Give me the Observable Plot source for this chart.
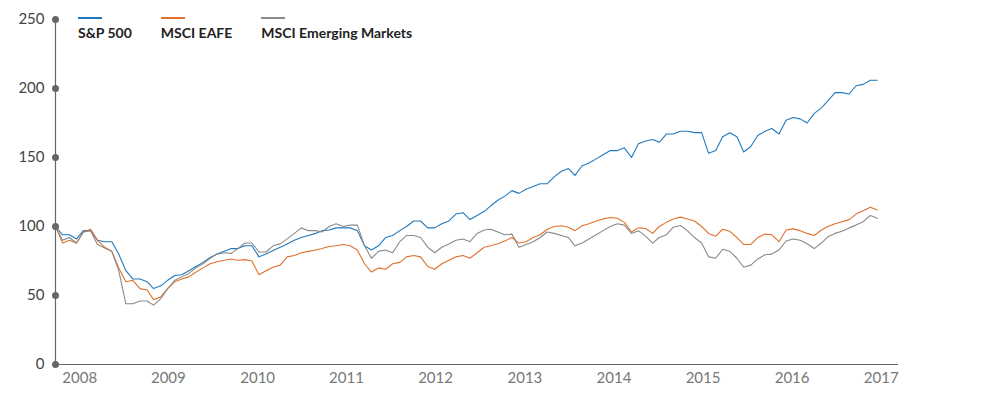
<!DOCTYPE html>
<html><head><meta charset="utf-8">
<script src="https://cdn.jsdelivr.net/npm/d3@7"></script>
<script src="https://cdn.jsdelivr.net/npm/@observablehq/plot@0.6"></script>
<style>
body{margin:0;background:#fff;font-family:Lato,sans-serif;}
#wrap{position:relative;width:985px;height:406px;}
#legend{position:absolute;left:78px;top:17px;display:flex;gap:29px;font-size:14px;font-weight:700;color:#222;}
.item{display:flex;flex-direction:column;line-height:1;}
.sw{width:24px;height:2px;margin-bottom:7px;}
</style></head><body><div id="wrap"><div id="legend"></div></div>
<script>
const seriesNames = ["S&P 500", "MSCI EAFE", "MSCI Emerging Markets"];
const seriesColors = ["#2179bd", "#e0702d", "#8a8a8a"];
const startMonth = "2008-01-01";
const yTicks = [0, 50, 100, 150, 200, 250];
const xTickLabels = ["2008","2009","2010","2011","2012","2013","2014","2015","2016","2017"];
const xTickDates = ["2008-04-15","2009-05-04","2010-05-26","2011-06-15","2012-07-05","2013-07-27","2014-08-17","2015-09-07","2016-09-27","2017-10-18"];

const sp500 = [100,94,94,91,97,97,90,89,89,80,68,62,62,60,55,57,61,64.5,65,68,71,74,77.5,80,82,84,84,86,86,78,80,82.6,85,87.4,90,92,93.5,95,97,97.5,99,99,99,97,86,83,86,92,93.5,97,100,104,104,99,99,102,104,109,110,105,108,111,115,119,122,126,124,127,129,131,131,136,140,142,137,144,146,149,152,155,155,157,150,160,162,163,161,167,167,169,169,168,168,153,155,165,168,165,154,158,166,169,171,167,177,179,178,175,182,186,191,197,197,196,202,203,206,206];
const eafe = [100,88,90,88,96,98,90,85,82,70,60,61,55,54,47,49,55,60,62,63.5,67,70,73,74.5,75.5,76.5,75.5,76,75,65,68,70.5,72,78,79,81,82,83,84,85.5,86,87,86,83,73,67,70,69,73,74,78,79,78,71,69,73,75.5,78,79,77,81,85,86,87.5,89.5,92,88,89,92,94,98,100,100.5,99.5,97,100.5,102,104,105.5,106.5,106,103,96,99,98.5,95,100,103,105.5,106.8,105.5,104,100,95,93,98,96.5,92,87,87,92,94.5,94,89,97.5,98.3,97,95,93.5,97.5,100,102,103.5,105,109,111.5,114,112];
const emerging = [100,90,92,88,96,97,87,84.5,82,68,44,44,46,46,43,47.6,55,61,63.5,66,70,73,77,80,81,80.5,84,88,88,81.5,81.5,86,87.4,91,95,99,97,97,96,100,102,100,101,101,86,77,82,83,81,89,93.5,93.5,92,85,81,85,87.4,90,91,89,95,97.5,98,96,94,94.5,85,87,89,92,96,95,93.5,92,86,88,91,94,97,100,102,101,95,97,93,88,92,94,99.5,100.7,97,92,88,78,77,83.5,82,77,70.5,72,76.5,79.5,80,83,89.5,91,90,87.5,84,88,92.5,95,96.5,99,101,103.5,108,106];

const dates = sp500.map((_, i) => d3.utcMonth.offset(new Date(startMonth), i));
const rows = [];
[sp500, eafe, emerging].forEach((vals, s) => vals.forEach((v, i) => rows.push({date: dates[i], value: v, series: seriesNames[s]})));

const legend = document.getElementById("legend");
seriesNames.forEach((n, i) => {
  const it = document.createElement("div"); it.className = "item";
  const sw = document.createElement("div"); sw.className = "sw"; sw.style.background = seriesColors[i];
  const t = document.createElement("span"); t.textContent = n;
  it.appendChild(sw); it.appendChild(t); legend.appendChild(it);
});

const chart = Plot.plot({
  width: 985, height: 406,
  marginLeft: 55, marginRight: 87, marginTop: 19, marginBottom: 42,
  style: {fontFamily: "Lato, sans-serif", fontSize: "15px", background: "#fff"},
  x: {type: "utc", domain: [new Date("2008-01-01"), new Date("2018-01-01")]},
  y: {domain: [0, 250]},
  color: {domain: seriesNames, range: seriesColors},
  marks: [
    Plot.axisY(yTicks, {tickSize: 0, tickPadding: 11, fontSize: 15, fill: "#444", label: null}),
    Plot.axisX(xTickDates.map(d => new Date(d)), {tickSize: 0, tickPadding: 8, fontSize: 15, fill: "#777", label: null, tickFormat: (d, i) => xTickLabels[xTickDates.findIndex(s => +new Date(s) === +d)]}),
    Plot.ruleY([0], {stroke: "#666", strokeWidth: 1.2}),
    Plot.ruleX([dates[0]], {stroke: "#666", strokeWidth: 1.2}),
    Plot.line(rows, {x: "date", y: "value", z: "series", stroke: "series", strokeWidth: 1.1}),
    Plot.dot(yTicks, {x: () => dates[0], y: d => d, r: 3.5, fill: "#666", stroke: "none"})
  ]
});
document.getElementById("wrap").prepend(chart);
chart.style.position = "absolute"; chart.style.left = "0"; chart.style.top = "0";
</script></body></html>
